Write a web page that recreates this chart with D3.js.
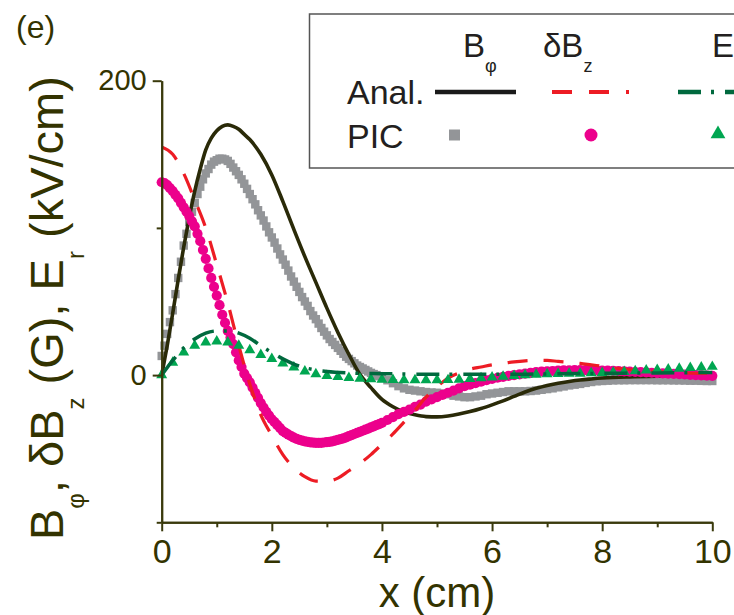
<!DOCTYPE html>
<html>
<head>
<meta charset="utf-8">
<script src="https://cdn.jsdelivr.net/npm/d3@7"></script>
<style>
  body { margin: 0; background: #fff; }
  svg { display: block; font-family: "Liberation Sans", Arial, sans-serif; }
</style>
</head>
<body>
<div id="chart"></div>
<script>
'use strict';

// ---- data ----
// x ticks (cm) and y ticks
var xMajorTicks = [0, 2, 4, 6, 8, 10];
var xMinorTicks = [1, 3, 5, 7, 9];
var yMajorTicks = [0, 200];
var yMinorTicks = [-100, 100];

// analytic curves, [x, value]
var bphiAnal = [[0,0],[0.1,20],[0.2,42],[0.3,65],[0.4,87],[0.5,107],[0.6,125],[0.7,140],[0.8,153],
  [0.9,161],[1.0,166],[1.1,169],[1.2,170],[1.3,169],[1.4,167],[1.5,163.5],[1.6,160],[1.8,150],
  [2.0,136],[2.2,118],[2.4,99],[2.6,80.5],[2.8,63],[3.0,45.5],[3.2,29],[3.4,14],[3.6,0.5],
  [3.8,-8.5],[4.0,-16.5],[4.2,-21.5],[4.4,-25],[4.6,-27],[4.8,-28.2],[5.0,-28.4],[5.2,-27.8],
  [5.4,-26.5],[5.6,-24.8],[5.8,-22.7],[6.0,-20.2],[6.2,-17.5],[6.4,-14.5],[6.6,-11.5],[6.8,-9],
  [7.0,-7],[7.2,-5.5],[7.4,-4.3],[7.6,-3.3],[7.8,-2.6],[8.0,-2],[8.5,-1.2],[9.0,-0.8],[9.5,-0.6],[10,-0.5]];

var dbzAnal = [[0,155],[0.2,150],[0.4,137],[0.6,119],[0.8,100],[1.0,75],[1.2,49],[1.4,20],[1.6,-6],
  [1.8,-27],[2.0,-41],[2.2,-54],[2.4,-63],[2.6,-69],[2.8,-72],[3.0,-72],[3.2,-70],[3.4,-65],[3.6,-60],
  [3.8,-54],[4.0,-47],[4.2,-40],[4.4,-32],[4.6,-24],[4.8,-15],[5.0,-8],[5.2,-2],[5.4,1.5],[5.6,4],
  [5.8,5.5],[6.0,7],[6.2,8],[6.4,9],[6.6,9.7],[6.8,10],[7.0,10],[7.2,9.3],[7.4,8.7],[7.6,8],[7.8,7],
  [8.0,6],[8.2,5],[8.4,4],[8.6,3.5],[8.8,3],[9.0,2.5],[9.5,1.5],[10,1]];

var erAnal = [[0,0],[0.2,10],[0.4,18.5],[0.6,24.5],[0.8,28.5],[1.0,30],[1.2,30],[1.4,28.5],[1.6,25],
  [1.8,20],[2.0,15.3],[2.2,11],[2.4,7.5],[2.6,5],[2.8,3.5],[3.0,2.5],[3.4,1.5],[4.0,1],[5.0,0.5],
  [6.0,0.5],[7.0,0.8],[8.0,1.2],[9.0,1.5],[10,1.8]];

// PIC sample positions: every 0.05 cm up to 4 cm, then every 0.1 cm
var picX = d3.range(0, 81).map(function(i) { return i * 0.05; })
  .concat(d3.range(41, 101).map(function(i) { return i / 10; }));
// E_r PIC triangles every 0.2 cm
var erPicX = d3.range(0, 51).map(function(i) { return i * 0.2; });

var bphiPic = [13,20,28,36,44,55,66,77,88,96,
  104,111,117,123,128,133,137,140,143,145,
  146,147,147,146.5,145.5,143.5,141,138.5,136,133,
  130,126.5,123,119.5,116,112,108.5,105,101,97,
  93.5,90,86,82,78.5,75,71,67,63.5,60,
  56.5,53,50,47,43.5,40.5,38,35,32,29.5,
  27,24.5,22.5,20.5,18.5,16.5,14.5,12.5,11,9.5,
  8,6.5,5.5,4.5,3.5,2.5,1.5,0.7,0,-0.7,
  -1.5,
  -3.5,-5.5,-7.5,-9,-10,-10.5,-11,-11.5,-11.8,
  -12,-12.5,-13,-14,-14.5,-15,-15,-14.5,-14,-13,
  -12.5,-12,-11.5,-11,-11,-11,-11,-10.8,-10.5,-10,
  -9.5,-9,-8.3,-7.7,-7,-6.5,-6,-5.3,-4.7,-4.2,
  -4,-3.8,-3.6,-3.5,-3.5,-3.4,-3.4,-3.4,-3.4,-3.4,
  -3.5,-3.5,-3.5,-3.6,-3.6,-3.7,-3.8,-3.8,-3.9,-4,
  -4];

var dbzPic = [131,130.5,129,127,125,122.5,120,117,114,111,
  108,104.5,101,96,91,85,79,72.5,66,60,
  54,47.5,41,35.5,30,25.5,21,15.5,10,5.5,
  1,-2,-5,-8.5,-12,-15.5,-19,-22,-25,-27.5,
  -30,-32,-34,-36,-38,-39.3,-40.5,-41.5,-42.5,-43.3,
  -44,-44.5,-45,-45.4,-45.7,-45.9,-46,-46,-46,-45.8,
  -45.5,-45.3,-45,-44.5,-44,-43.5,-43,-42.3,-41.5,-40.8,
  -40,-39.3,-38.5,-37.8,-37,-36.3,-35.5,-34.8,-34,-33.3,
  -32.5,
  -30.5,-28.5,-26.5,-25,-23.5,-21.5,-20,-18,-16.5,
  -15,-13.5,-12,-10.5,-9,-7.5,-6.5,-5.5,-4.5,-3.5,
  -2.5,-1.8,-1.2,-0.5,0,0.5,1,1.5,2,2.3,
  2.5,2.8,3,3.2,3.3,3.4,3.4,3.4,3.3,3.2,
  3.1,3,2.9,2.7,2.5,2.3,2.1,2,1.8,1.6,
  1.4,1.2,1,0.8,0.6,0.4,0.2,0,-0.2,-0.4,
  -0.5];

var erPic = [0,8.5,15.5,20,22.2,23,22.2,20,17,13.8,
  11,8,5.2,2.5,0.7,-0.5,-1.2,-1.8,-2.3,-2.7,
  -3,-3.2,-3.4,-3.4,-3.4,-3.4,-3.3,-3,-2.5,-2,
  -1.5,-1,-0.5,0,0.4,0.7,0.9,1,1.1,1.3,
  1.6,1.9,2.3,2.7,3.2,3.6,4,4.4,4.9,5.3,
  5.7];

// ---- styles ----
var axisColor = '#3a3a0c';
var textColor = '#333300';
var colors = {
  bphiAnal: '#2a2a08', dbzAnal: '#ed1c24', erAnal: '#00693e',
  bphiPic: '#939598', dbzPic: '#ec008c', erPic: '#00a651'
};
var redDash = '20,16';
var redDashLegend = '20,17,20,17,3,17';
var greenDash = '23,10,3,11';

var width = 734, height = 615;

var svg = d3.select('#chart').append('svg')
  .attr('width', width)
  .attr('height', height);

// Scales
var xScale = d3.scaleLinear().domain([0, 10]).range([161.7, 712.3]);
var yScale = d3.scaleLinear().domain([-100, 200]).range([522.3, 80.7]);

var line = d3.line()
  .x(function(d) { return xScale(d[0]); })
  .y(function(d) { return yScale(d[1]); })
  .curve(d3.curveMonotoneX);

function zip(xs, values) {
  return values.map(function(v, i) { return [xs[i], v]; });
}

// Series (drawn in plot order)
var plot = svg.append('g').attr('class', 'plot');

plot.append('g').selectAll('rect')
  .data(zip(picX, bphiPic))
  .enter().append('rect')
  .attr('x', function(d) { return xScale(d[0]) - 4.2; })
  .attr('y', function(d) { return yScale(d[1]) - 4.2; })
  .attr('width', 8.4)
  .attr('height', 8.4)
  .attr('fill', colors.bphiPic);

plot.append('path')
  .datum(bphiAnal)
  .attr('d', line)
  .attr('fill', 'none')
  .attr('stroke', colors.bphiAnal)
  .attr('stroke-width', 3.6);

plot.append('g').selectAll('circle')
  .data(zip(picX, dbzPic))
  .enter().append('circle')
  .attr('cx', function(d) { return xScale(d[0]); })
  .attr('cy', function(d) { return yScale(d[1]); })
  .attr('r', 5.1)
  .attr('fill', colors.dbzPic);

plot.append('path')
  .datum(dbzAnal)
  .attr('d', line)
  .attr('fill', 'none')
  .attr('stroke', colors.dbzAnal)
  .attr('stroke-width', 3.2)
  .attr('stroke-dasharray', redDash);

var tri = d3.symbol().type(d3.symbolTriangle).size(52);
plot.append('g').selectAll('path')
  .data(zip(erPicX, erPic))
  .enter().append('path')
  .attr('d', tri)
  .attr('transform', function(d) { return 'translate(' + xScale(d[0]) + ',' + yScale(d[1]) + ')'; })
  .attr('fill', colors.erPic);

plot.append('path')
  .datum(erAnal)
  .attr('d', line)
  .attr('fill', 'none')
  .attr('stroke', colors.erAnal)
  .attr('stroke-width', 3.5)
  .attr('stroke-dasharray', greenDash);

// Axes
var xMajor = d3.axisBottom(xScale).tickValues(xMajorTicks).tickSize(9).tickSizeOuter(0).tickPadding(8);
var xMinor = d3.axisBottom(xScale).tickValues(xMinorTicks).tickSize(5).tickSizeOuter(0).tickFormat('');
var yMajor = d3.axisLeft(yScale).tickValues(yMajorTicks).tickSize(9).tickSizeOuter(0).tickPadding(6);
var yMinor = d3.axisLeft(yScale).tickValues(yMinorTicks).tickSize(5).tickSizeOuter(0).tickFormat('');

function styleAxis(g, fontSize) {
  g.selectAll('path, line').attr('stroke', axisColor).attr('stroke-width', 2);
  g.selectAll('text')
    .attr('fill', textColor)
    .style('font-size', fontSize + 'px')
    .style('font-family', '"Liberation Sans", Arial, sans-serif');
}

var bottom = yScale(-100);
svg.append('g').attr('transform', 'translate(0,' + bottom + ')').call(xMinor).call(styleAxis, 34);
svg.append('g').attr('transform', 'translate(0,' + bottom + ')').call(xMajor).call(styleAxis, 34);
svg.append('g').attr('transform', 'translate(' + xScale(0) + ',0)').call(yMinor).call(styleAxis, 29);
svg.append('g').attr('transform', 'translate(' + xScale(0) + ',0)').call(yMajor).call(styleAxis, 29);

// Axis titles
svg.append('text')
  .attr('x', (xScale(0) + xScale(10)) / 2)
  .attr('y', 607)
  .attr('text-anchor', 'middle')
  .attr('fill', textColor)
  .style('font-size', '42px')
  .text('x (cm)');

var yTitle = svg.append('text')
  .attr('transform', 'translate(63,540) rotate(-90)')
  .attr('fill', textColor)
  .style('font-size', '47px');
yTitle.append('tspan').text('B');
yTitle.append('tspan').attr('dy', 21).style('font-size', '24px').text('\u03c6');
yTitle.append('tspan').attr('dy', -21).text(', \u03b4B');
yTitle.append('tspan').attr('dy', 21).style('font-size', '24px').text('z');
yTitle.append('tspan').attr('dy', -21).text(' (G), E');
yTitle.append('tspan').attr('dy', 21).style('font-size', '24px').text('r');
yTitle.append('tspan').attr('dy', -21).text(' (kV/cm)');

// Panel label
svg.append('text')
  .attr('x', 16)
  .attr('y', 38)
  .attr('fill', textColor)
  .style('font-size', '32px')
  .text('(e)');

// Legend
var legend = svg.append('g').attr('class', 'legend');
legend.append('rect')
  .attr('x', 309.5).attr('y', 14)
  .attr('width', 440).attr('height', 154)
  .attr('fill', '#fff')
  .attr('stroke', '#555')
  .attr('stroke-width', 1.5);

var legendText = '#231f20';
function header(xPos, main, sub) {
  var t = legend.append('text')
    .attr('x', xPos).attr('y', 57)
    .attr('fill', legendText)
    .style('font-size', '33px');
  t.append('tspan').text(main);
  t.append('tspan').attr('dy', 15).style('font-size', '18px').text(sub);
}
header(463, 'B', '\u03c6');
header(543, '\u03b4B', 'z');
header(712, 'E', 'r');

legend.append('text').attr('x', 347).attr('y', 104).attr('fill', legendText)
  .style('font-size', '34px').text('Anal.');
legend.append('text').attr('x', 347).attr('y', 148).attr('fill', legendText)
  .style('font-size', '34px').text('PIC');

var lineY = 92, markY = 135;
legend.append('line').attr('x1', 435).attr('x2', 516).attr('y1', lineY).attr('y2', lineY)
  .attr('stroke', '#1a1a1a').attr('stroke-width', 4.5);
legend.append('line').attr('x1', 552).attr('x2', 634).attr('y1', lineY).attr('y2', lineY)
  .attr('stroke', colors.dbzAnal).attr('stroke-width', 4).attr('stroke-dasharray', redDashLegend);
legend.append('line').attr('x1', 678).attr('x2', 760).attr('y1', lineY).attr('y2', lineY)
  .attr('stroke', colors.erAnal).attr('stroke-width', 4.5).attr('stroke-dasharray', greenDash);

legend.append('rect').attr('x', 449).attr('y', markY - 5.5).attr('width', 11).attr('height', 11)
  .attr('fill', colors.bphiPic);
legend.append('circle').attr('cx', 591).attr('cy', markY).attr('r', 6.5)
  .attr('fill', colors.dbzPic);
legend.append('path').attr('d', d3.symbol().type(d3.symbolTriangle).size(95))
  .attr('transform', 'translate(718,' + (markY - 1) + ')')
  .attr('fill', colors.erPic);
</script>
</body>
</html>
